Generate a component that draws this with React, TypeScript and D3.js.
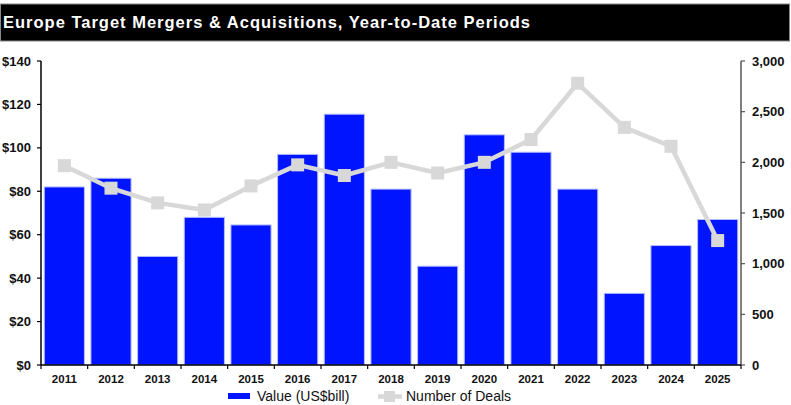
import * as d3 from "d3";

const years = ["2011", "2012", "2013", "2014", "2015", "2016", "2017", "2018", "2019", "2020", "2021", "2022", "2023", "2024", "2025"];
const valueBil = [82, 86, 50, 68, 64.5, 97, 115.5, 81, 45.5, 106, 98, 81, 33, 55, 67];
const numDeals = [1967, 1745, 1600, 1530, 1767, 1975, 1870, 2000, 1895, 2000, 2225, 2780, 2345, 2158, 1228];
const leftTicks = [0, 20, 40, 60, 80, 100, 120, 140];
const rightTicks = [0, 500, 1000, 1500, 2000, 2500, 3000];

const W = 791;
const H = 405;
const left = 41;
const right = 741;
const top = 61;
const bottom = 365;

const BLUE = "#0014ff";
const GREY = "#d8d8d8";

export default function App() {
  const x = d3.scaleBand<string>().domain(years).range([left, right]).paddingInner(0.14).paddingOuter(0.07);
  const y = d3.scaleLinear().domain([0, 140]).range([bottom, top]);
  const y2 = d3.scaleLinear().domain([0, 3000]).range([bottom, top]);
  const gap = (x.step() - x.bandwidth()) / 2;

  const pts: [number, number][] = years.map((yr, i) => [x(yr)! + x.bandwidth() / 2, y2(numDeals[i])]);
  const line = d3.line();
  const fmtL = (v: number) => `$${v}`;
  const fmtR = d3.format(",");
  const ms = 13;

  return (
    <div style={{ position: "absolute", left: 0, top: 0 }}>
      <svg width={W} height={H} style={{ display: "block", fontFamily: "'Liberation Sans', Arial, sans-serif" }}>
        <rect x={0} y={0} width={W} height={H} fill="#fff" />
        {/* title bar */}
        <rect x={0.5} y={4} width={789} height={37} fill="#000" stroke="#888" strokeWidth={1} />
        <text x={3} y={28} fill="#fff" fontSize={16.5} fontWeight="bold" textLength={527} lengthAdjust="spacing">
          Europe Target Mergers &amp; Acquisitions, Year-to-Date Periods
        </text>

        {/* bars */}
        {years.map((yr, i) => (
          <rect
            key={yr}
            x={x(yr)}
            y={y(valueBil[i])}
            width={x.bandwidth()}
            height={bottom - y(valueBil[i])}
            fill={BLUE}
            stroke="#b4bcff"
            strokeWidth={1}
          />
        ))}

        {/* deals line */}
        <path d={line(pts) || ""} fill="none" stroke={GREY} strokeWidth={4.5} strokeLinejoin="round" />
        {pts.map(([px, py], i) => (
          <rect key={i} x={px - ms / 2} y={py - ms / 2} width={ms} height={ms} fill={GREY} />
        ))}

        {/* left axis */}
        <line x1={left} x2={left} y1={top} y2={bottom} stroke="#000" strokeWidth={1.5} />
        {leftTicks.map((t) => (
          <g key={t}>
            <line x1={left - 4} x2={left} y1={y(t)} y2={y(t)} stroke="#000" strokeWidth={1.2} />
            <text x={left - 10} y={y(t)} dy="0.35em" textAnchor="end" fontSize={13} fontWeight="bold" fill="#111">
              {fmtL(t)}
            </text>
          </g>
        ))}

        {/* right axis */}
        <line x1={right} x2={right} y1={top} y2={bottom} stroke="#808080" strokeWidth={2} />
        {rightTicks.map((t) => (
          <g key={t}>
            <line x1={right} x2={right + 4} y1={y2(t)} y2={y2(t)} stroke="#555" strokeWidth={1.2} />
            <text x={right + 11} y={y2(t)} dy="0.35em" textAnchor="start" fontSize={13} fontWeight="bold" fill="#111">
              {fmtR(t)}
            </text>
          </g>
        ))}

        {/* x axis */}
        <line x1={left} x2={right} y1={bottom} y2={bottom} stroke="#000" strokeWidth={1.5} />
        {years.map((yr) => (
          <g key={yr}>
            <line x1={x(yr)! - gap} x2={x(yr)! - gap} y1={bottom} y2={bottom + 4} stroke="#000" strokeWidth={1.2} />
            <text x={x(yr)! + x.bandwidth() / 2} y={383} textAnchor="middle" fontSize={11.5} fontWeight="bold" fill="#111">
              {yr}
            </text>
          </g>
        ))}
        <line x1={right} x2={right} y1={bottom} y2={bottom + 4} stroke="#000" strokeWidth={1.2} />

        {/* legend */}
        <rect x={228} y={393} width={22} height={6} fill={BLUE} />
        <text x={257} y={401} fontSize={14} fill="#111">Value (US$bill)</text>
        <line x1={378} x2={402} y1={396.5} y2={396.5} stroke={GREY} strokeWidth={4.5} />
        <rect x={384} y={391} width={11} height={11} fill={GREY} />
        <text x={406} y={401} fontSize={14} fill="#111">Number of Deals</text>
      </svg>
    </div>
  );
}
